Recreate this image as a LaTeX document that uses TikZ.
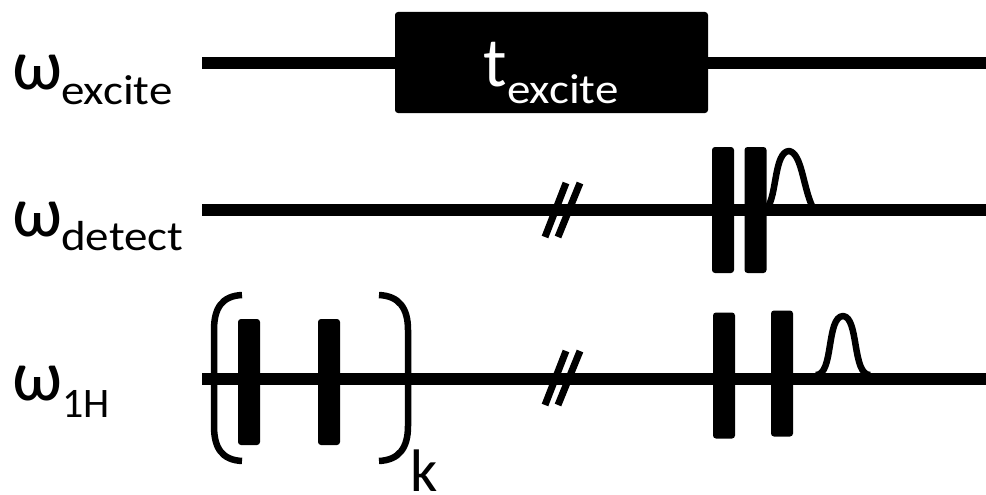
\documentclass[tikz,border=0pt]{standalone}
\usepackage{fontspec}
\setmainfont{Carlito}
\newfontfamily\stretchedfont[FakeStretch=1.12]{Carlito}
\tikzset{
  seqline/.style={line width=11.5pt},
  pulse/.style={fill=black,rounded corners=3pt,inner sep=0pt,minimum width=22pt,minimum height=126pt},
  slashmark/.style={line width=7pt},
  gausscurve/.style={line width=6.5pt,line join=round},
  brk/.style={line width=6.5pt},
  lab/.style={inner sep=0pt,anchor=base west},
  om/.style={lab,font=\fontsize{72}{72}\selectfont},
  subs/.style={lab,font=\stretchedfont\fontsize{42}{42}\selectfont}
}
\begin{document}
\begin{tikzpicture}[x=1pt,y=-1pt]
\useasboundingbox (0,0) rectangle (986,495);
% free line ends
\coordinate (l1) at (202,63);  \coordinate (r1) at (986,63);
\coordinate (l2) at (202,210); \coordinate (r2) at (986,210);
\coordinate (l3) at (202,379); \coordinate (r3) at (986,379);
\draw[seqline] (l1) -- (r1);
\draw[seqline] (l2) -- (r2);
\draw[seqline] (l3) -- (r3);
% excite box
\node (box) at (551.5,62.5) [fill=black,rounded corners=3pt,inner sep=0pt,minimum width=313pt,minimum height=101pt] {};
\node[lab,text=white,font=\fontsize{70}{70}\selectfont] (tt) at (483,87) {t};
\node[subs,text=white] (ts) at (507,103) {excite};
% labels
\node[om] (w1) at (12,89) {ω};
\node[subs] (s1) at (61,105) {excite};
\node[om] (w2) at (12,236) {ω};
\node[subs] (s2) at (61,250) {detect};
\node[om] (w3) at (12,400) {ω};
\node[lab,font=\fontsize{42}{42}\selectfont] (s3) at (62,417) {1H};
\node[lab,text depth=0pt,font=\fontsize{60}{60}\selectfont] (kk) at (410,491) {k};
% pulses
\node[pulse] (p1) at (723,210) {};
\node[pulse] (p2) at (755.5,210) {};
\node[pulse] (p3) at (724,375.5) {};
\node[pulse] (p4) at (782,373.5) {};
\node[pulse] (p5) at (249,382) {};
\node[pulse] (p6) at (329,382) {};
% selective pulses
\draw[gausscurve] (767,208) .. controls (777,196) and (774,152) .. (789,151) .. controls (802,153) and (803,188) .. (813,208);
\draw[gausscurve] (816,375) .. controls (834,375) and (826,317) .. (843,316) .. controls (859,317) and (852,375) .. (870,375);
% break marks
\coordinate (a1) at (545,237); \coordinate (a2) at (566,183);
\coordinate (b1) at (558,237); \coordinate (b2) at (580,183);
\coordinate (c1) at (545,405); \coordinate (c2) at (566,351);
\coordinate (d1) at (558,405); \coordinate (d2) at (580,351);
\draw[slashmark] (a1) -- (a2);
\draw[slashmark] (b1) -- (b2);
\draw[slashmark] (c1) -- (c2);
\draw[slashmark] (d1) -- (d2);
% brackets
\coordinate (bl1) at (242,295); \coordinate (bl2) at (242,461);
\coordinate (br1) at (379,295); \coordinate (br2) at (379,461);
\draw[brk] (bl1) .. controls (222,296) and (214,308) .. (214,330) -- (214,426) .. controls (214,448) and (222,460) .. (bl2);
\draw[brk] (br1) .. controls (399,296) and (408,308) .. (408,330) -- (408,426) .. controls (408,448) and (399,460) .. (br2);
\end{tikzpicture}
\end{document}
